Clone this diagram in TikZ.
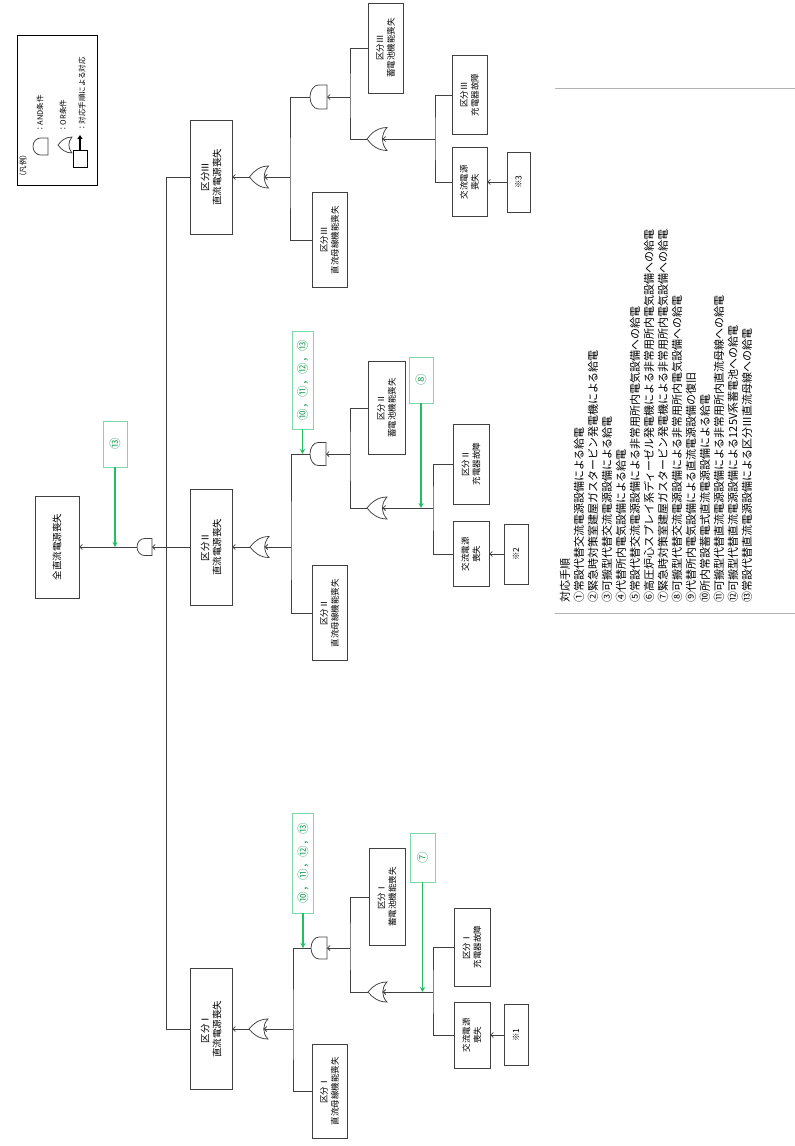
\documentclass[tikz,border=0pt]{standalone}
\usepackage{fontspec}
\setmainfont{Noto Sans CJK JP}
\usetikzlibrary{arrows.meta}
\definecolor{lk}{HTML}{404040}
\definecolor{gbox}{HTML}{7FD8A6}
\definecolor{gtxt}{HTML}{1E9E55}
\definecolor{garr}{HTML}{1FBF62}
\tikzset{
 ev/.style={draw=lk, line width=0.75pt, rotate=90, align=center, inner sep=1pt, font=\fontsize{8.5}{11}\selectfont},
 evb/.style={ev, font=\fontsize{9.5}{12}\selectfont},
 gb/.style={draw=gbox, line width=0.8pt, rotate=90, align=center, inner sep=1pt, text=gtxt, font=\fontsize{11.5}{13}\selectfont},
 ln/.style={draw=lk, line width=0.75pt},
 ar/.style={ln, -{Straight Barb[length=2.5pt,width=5pt]}},
 gar/.style={draw=garr, line width=1.4pt, -{Stealth[length=5pt,width=5pt]}},
 gate/.style={draw=lk, line width=0.75pt, fill=white},
 txt/.style={rotate=90, anchor=west, inner sep=0pt, font=\fontsize{11}{13}\selectfont},
 lgt/.style={rotate=90, anchor=west, inner sep=0pt, font=\fontsize{7.5}{9}\selectfont},
}
\newcommand{\myAND}[5]{%
 \draw[gate] ({#2+#4},{#3-#5}) -- (#2,{#3-#5}) .. controls ({#2-0.55*#4},{#3-#5}) and ({#2-#4},{#3-0.55*#5}) .. ({#2-#4},#3) .. controls ({#2-#4},{#3+0.55*#5}) and ({#2-0.55*#4},{#3+#5}) .. (#2,{#3+#5}) -- ({#2+#4},{#3+#5}) -- cycle;
 \coordinate (#1o) at ({#2-#4},#3);
 \coordinate (#1i) at ({#2+#4},#3);}
\newcommand{\myOR}[5]{%
 \draw[gate] ({#2+#4},{#3-#5}) .. controls ({#2+0.1*#4},{#3-#5}) and ({#2-0.55*#4},{#3-0.55*#5}) .. ({#2-#4},#3) .. controls ({#2-0.55*#4},{#3+0.55*#5}) and ({#2+0.1*#4},{#3+#5}) .. ({#2+#4},{#3+#5}) .. controls ({#2+0.4*#4},{#3+0.4*#5}) and ({#2+0.4*#4},{#3-0.4*#5}) .. ({#2+#4},{#3-#5}) -- cycle;
 \coordinate (#1o) at ({#2-#4},#3);
 \coordinate (#1i) at ({#2+0.55*#4},#3);}
\begin{document}
\begin{tikzpicture}[x=1pt,y=-1pt]
\useasboundingbox (0,0) rectangle (795,1146);

% ---------- legend ----------
\node[draw=black, line width=0.8pt, minimum width=80pt, minimum height=150pt, inner sep=0pt] (leg) at (57,110) {};
\node[lgt] (lg0) at (23,181) {（凡例）};
\myAND{lga}{40.5}{146.5}{7.5}{8.5}
\node[lgt] (lg1) at (40,133) {：AND条件};
\myOR{lgo}{65}{145}{7}{8}
\node[lgt] (lg2) at (63,133) {：OR条件};
\node[draw=black, line width=0.7pt, minimum width=14pt, minimum height=17pt, inner sep=0pt] (lgb) at (80,158.5) {};
\coordinate (lgat) at (80,135);
\draw[line width=1.6pt, -{Triangle[length=4pt,width=5pt]}] (lgb.north) -- (lgat);
\node[lgt] (lg3) at (82,132) {：対応手順による対応};

% ---------- top ----------
\node[evb, minimum width=102pt, minimum height=44pt] (te) at (57,547) {全直流電源喪失};
\myAND{ga0}{144.5}{547}{7.5}{8.5}
\node[gb, minimum width=46pt, minimum height=24pt] (g0) at (115,444) {⑬};
\draw[ar] (ga0o) -- (te.south);
\coordinate (b0) at (166,547);
\draw[ar] (b0) -- (ga0i);
\draw[gar] (g0.west) -- (g0.west |- te.south);

\node[evb, minimum width=114pt, minimum height=42pt] (k3) at (211,177) {区分Ⅲ\\直流電源喪失};
\node[evb, minimum width=116pt, minimum height=42pt] (k2) at (211,547) {区分Ⅱ\\直流電源喪失};
\node[evb, minimum width=121pt, minimum height=42pt] (k1) at (211,1029) {区分Ⅰ\\直流電源喪失};
\draw[ln] (k3.north) -| (b0);
\draw[ln] (k1.north) -| (b0);
\draw[ln] (k2.north) -- (b0);

% ---------- division III ----------
\myOR{o3}{259}{177}{9.5}{11}
\draw[ar] (o3o) -- (k3.south);
\coordinate (j3) at (290,177);
\draw[ar] (j3) -- (o3i);
\myAND{a3}{318.5}{97}{8.5}{12}
\node[ev, minimum width=95pt, minimum height=35pt] (m3) at (329.5,240) {区分Ⅲ\\直流母線機能喪失};
\draw[ln] (a3o) -| (j3) |- (m3.north);
\coordinate (p3) at (350,97);
\draw[ar] (p3) -- (a3i);
\node[ev, minimum width=90pt, minimum height=35pt] (n3) at (385.5,48) {区分Ⅲ\\蓄電池機能喪失};
\myOR{q3}{377}{139}{10}{11.5}
\draw[ln] (n3.north) -| (p3) |- (q3o);
\coordinate (r3) at (435,139);
\draw[ar] (r3) -- (q3i);
\node[ev, minimum width=79pt, minimum height=35pt] (c3) at (469.5,95) {区分Ⅲ\\充電器故障};
\node[ev, minimum width=69pt, minimum height=35pt] (e3) at (469.5,182) {交流電源\\喪失};
\draw[ln] (c3.north) -| (r3) |- (e3.north);
\node[ev, minimum width=60pt, minimum height=23pt] (s3) at (518.5,182) {※3};
\draw[ar] (s3.north) -- (e3.south);

% ---------- division II ----------
\myOR{o2}{259.5}{547}{9.5}{10.5}
\draw[ar] (o2o) -- (k2.south);
\coordinate (j2) at (291,547);
\draw[ar] (j2) -- (o2i);
\myAND{a2}{318}{454}{8}{11.5}
\node[ev, minimum width=95pt, minimum height=35pt] (m2) at (329.5,613) {区分Ⅱ\\直流母線機能喪失};
\draw[ln] (a2o) -| (j2) |- (m2.north);
\node[gb, minimum width=98pt, minimum height=21pt] (gA2) at (302.5,380) {⑩，⑪，⑫，⑬};
\draw[gar] (gA2.west) -- (gA2.west |- a2o);
\coordinate (p2) at (350,454);
\draw[ar] (p2) -- (a2i);
\node[ev, minimum width=93pt, minimum height=37pt] (n2) at (386.5,408) {区分Ⅱ\\蓄電池機能喪失};
\myOR{q2}{377}{508}{10}{11}
\draw[ln] (n2.north) -| (p2) |- (q2o);
\node[gb, minimum width=46pt, minimum height=24pt] (gB2) at (421,380) {⑧};
\coordinate (r2) at (433,508);
\draw[ar] (r2) -- (q2i);
\draw[gar] (gB2.west) -- (gB2.west |- q2o);
\node[ev, minimum width=80pt, minimum height=36pt] (c2) at (471,464) {区分Ⅱ\\充電器故障};
\node[ev, minimum width=65pt, minimum height=36pt] (e2) at (471,554) {交流電源\\喪失};
\draw[ln] (c2.north) -| (r2) |- (e2.north);
\node[ev, minimum width=60pt, minimum height=24pt] (s2) at (516,554) {※2};
\draw[ar] (s2.north) -- (e2.south);

% ---------- division I ----------
\myOR{o1}{258.5}{1029}{9.5}{10}
\draw[ar] (o1o) -- (k1.south);
\coordinate (j1) at (293,1029);
\draw[ar] (j1) -- (o1i);
\myAND{a1}{319}{948}{8}{11}
\node[ev, minimum width=94pt, minimum height=35pt] (m1) at (329.5,1091) {区分Ⅰ\\直流母線機能喪失};
\draw[ln] (a1o) -| (j1) |- (m1.north);
\node[gb, minimum width=100pt, minimum height=21pt] (gA1) at (303,863) {⑩，⑪，⑫，⑬};
\draw[gar] (gA1.west) -- (gA1.west |- a1o);
\coordinate (p1) at (350,948);
\draw[ar] (p1) -- (a1i);
\node[ev, minimum width=97pt, minimum height=36pt] (n1) at (387,897) {区分Ⅰ\\蓄電池機能喪失};
\myOR{q1}{377.5}{992}{9.5}{10}
\draw[ln] (n1.north) -| (p1) |- (q1o);
\node[gb, minimum width=49pt, minimum height=25pt] (gB1) at (422.5,857.5) {⑦};
\coordinate (r1) at (433,992);
\draw[ar] (r1) -- (q1i);
\draw[gar] (gB1.west) -- (gB1.west |- q1o);
\node[ev, minimum width=78pt, minimum height=36pt] (c1) at (472,947) {区分Ⅰ\\充電器故障};
\node[ev, minimum width=66pt, minimum height=36pt] (e1) at (472,1035) {交流電源\\喪失};
\draw[ln] (c1.north) -| (r1) |- (e1.north);
\node[ev, minimum width=61pt, minimum height=24pt] (s1) at (516,1035) {※1};
\draw[ar] (s1.north) -- (e1.south);

% ---------- measures list ----------
\draw[black!30, line width=0.6pt] (555,88) -- (795,88);
\draw[black!30, line width=0.6pt] (555,613) -- (795,613);
\node[txt] (l0) at (565,603) {対応手順};
\node[txt] (l1) at (579,603) {①常設代替交流電源設備による給電};
\node[txt] (l2) at (593,603) {②緊急時対策室建屋ガスタービン発電機による給電};
\node[txt] (l3) at (607,603) {③可搬型代替交流電源設備による給電};
\node[txt] (l4) at (621,603) {④代替所内電気設備による給電};
\node[txt] (l5) at (635,603) {⑤常設代替交流電源設備による非常用所内電気設備への給電};
\node[txt] (l6) at (649,603) {⑥高圧炉心スプレイ系ディーゼル発電機による非常用所内電気設備への給電};
\node[txt] (l7) at (663,603) {⑦緊急時対策室建屋ガスタービン発電機による非常用所内電気設備への給電};
\node[txt] (l8) at (677,603) {⑧可搬型代替交流電源設備による非常用所内電気設備への給電};
\node[txt] (l9) at (691,603) {⑨代替所内電気設備による直流電源設備の復旧};
\node[txt] (l10) at (705,603) {⑩所内常設蓄電式直流電源設備による給電};
\node[txt] (l11) at (719,603) {⑪可搬型代替直流電源設備による非常用所内直流母線への給電};
\node[txt] (l12) at (733,603) {⑫可搬型代替直流電源設備による125V系蓄電池への給電};
\node[txt] (l13) at (747,603) {⑬常設代替直流電源設備による区分Ⅲ直流母線への給電};
\end{tikzpicture}
\end{document}
